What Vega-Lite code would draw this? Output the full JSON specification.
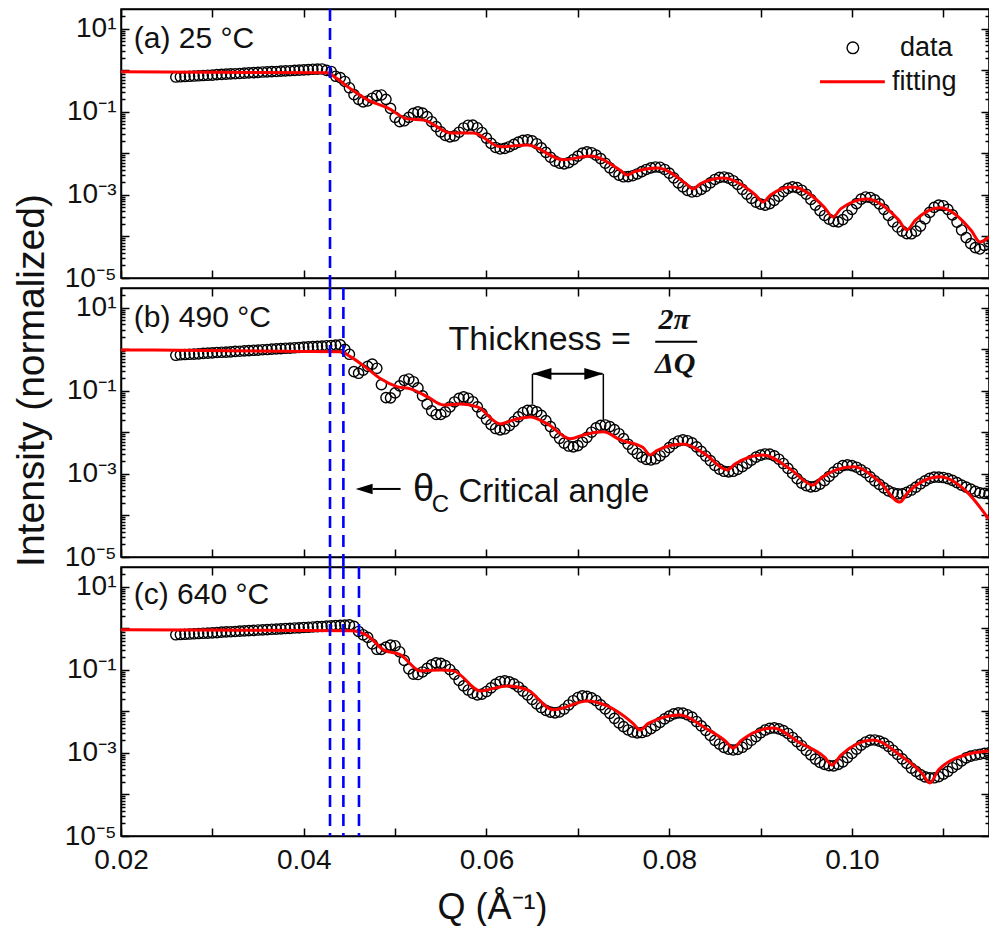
{
"$schema": "https://vega.github.io/schema/vega-lite/v6.json",
"background": "white",
"padding": {"left": 11, "top": 1, "right": 0, "bottom": 0},
"spacing": 10,
"bounds": "flush",
"config": {
  "view": {"stroke": "black", "strokeWidth": 1.5},
  "font": "Liberation Sans",
  "axis": {"grid": false, "domainColor": "black", "domainWidth": 1.5, "tickColor": "black", "tickWidth": 1.5, "labelColor": "#111111", "labelFont": "Liberation Sans", "labelFontSize": 28, "titleFont": "Liberation Sans", "titleFontWeight": "normal", "titleColor": "#111111", "minExtent": 0},
  "text": {"color": "#111111", "font": "Liberation Sans"}
},
"datasets": {
  "crit": [{"p":1,"q":0.042875},{"p":2,"q":0.044339},{"p":3,"q":0.046046}],
  "pa": [{"q":0.026,"i":0.69},{"q":0.0265,"i":0.70},{"q":0.027,"i":0.71},{"q":0.0275,"i":0.72},{"q":0.028,"i":0.73},{"q":0.0285,"i":0.74},{"q":0.029,"i":0.75},{"q":0.0295,"i":0.76},{"q":0.030,"i":0.77},{"q":0.0305,"i":0.79},{"q":0.031,"i":0.80},{"q":0.0315,"i":0.81},{"q":0.032,"i":0.82},{"q":0.0325,"i":0.83},{"q":0.033,"i":0.84},{"q":0.0335,"i":0.86},{"q":0.034,"i":0.87},{"q":0.0345,"i":0.88},{"q":0.035,"i":0.89},{"q":0.0355,"i":0.91},{"q":0.036,"i":0.92},{"q":0.0365,"i":0.93},{"q":0.037,"i":0.94},{"q":0.0375,"i":0.96},{"q":0.038,"i":0.97},{"q":0.0385,"i":0.98},{"q":0.039,"i":1.0},{"q":0.0395,"i":1.01},{"q":0.040,"i":1.03},{"q":0.0405,"i":1.04},{"q":0.041,"i":1.06},{"q":0.0415,"i":1.07},{"q":0.042,"i":1.08},{"q":0.0425,"i":1.0},{"q":0.043,"i":0.94},{"q":0.0435,"i":0.72},{"q":0.044,"i":0.67},{"q":0.0445,"i":0.54},{"q":0.045,"i":0.38},{"q":0.0455,"i":0.26},{"q":0.046,"i":0.20},{"q":0.0465,"i":0.174},{"q":0.047,"i":0.183},{"q":0.0475,"i":0.213},{"q":0.048,"i":0.246},{"q":0.0485,"i":0.255},{"q":0.049,"i":0.20},{"q":0.0495,"i":0.121},{"q":0.050,"i":0.074},{"q":0.0505,"i":0.058},{"q":0.051,"i":0.061},{"q":0.0515,"i":0.074},{"q":0.052,"i":0.092},{"q":0.0525,"i":0.100},{"q":0.053,"i":0.093},{"q":0.0535,"i":0.077},{"q":0.054,"i":0.058},{"q":0.0545,"i":0.044},{"q":0.055,"i":0.033},{"q":0.0555,"i":0.027},{"q":0.056,"i":0.025},{"q":0.0565,"i":0.0265},{"q":0.057,"i":0.0324},{"q":0.0575,"i":0.041},{"q":0.058,"i":0.0477},{"q":0.0585,"i":0.0478},{"q":0.059,"i":0.0414},{"q":0.0595,"i":0.0318},{"q":0.060,"i":0.0234},{"q":0.0605,"i":0.0174},{"q":0.061,"i":0.0139},{"q":0.0615,"i":0.0128},{"q":0.062,"i":0.0132},{"q":0.0625,"i":0.0145},{"q":0.063,"i":0.0165},{"q":0.0635,"i":0.0187},{"q":0.064,"i":0.0206},{"q":0.0645,"i":0.0211},{"q":0.065,"i":0.0200},{"q":0.0655,"i":0.0171},{"q":0.066,"i":0.0136},{"q":0.0665,"i":0.0106},{"q":0.067,"i":0.0081},{"q":0.0675,"i":0.0065},{"q":0.068,"i":0.0058},{"q":0.0685,"i":0.0056},{"q":0.069,"i":0.0060},{"q":0.0695,"i":0.0071},{"q":0.070,"i":0.0086},{"q":0.0705,"i":0.0102},{"q":0.071,"i":0.0109},{"q":0.0715,"i":0.0104},{"q":0.072,"i":0.0091},{"q":0.0725,"i":0.0075},{"q":0.073,"i":0.0058},{"q":0.0735,"i":0.0045},{"q":0.074,"i":0.0036},{"q":0.0745,"i":0.0030},{"q":0.075,"i":0.00274},{"q":0.0755,"i":0.00275},{"q":0.076,"i":0.0029},{"q":0.0765,"i":0.0032},{"q":0.077,"i":0.00365},{"q":0.0775,"i":0.0041},{"q":0.078,"i":0.00449},{"q":0.0785,"i":0.00472},{"q":0.079,"i":0.00463},{"q":0.0795,"i":0.0041},{"q":0.080,"i":0.00334},{"q":0.0805,"i":0.00257},{"q":0.081,"i":0.00195},{"q":0.0815,"i":0.00156},{"q":0.082,"i":0.00128},{"q":0.0825,"i":0.00118},{"q":0.083,"i":0.00121},{"q":0.0835,"i":0.00136},{"q":0.084,"i":0.00161},{"q":0.0845,"i":0.00196},{"q":0.085,"i":0.00236},{"q":0.0855,"i":0.00264},{"q":0.086,"i":0.00271},{"q":0.0865,"i":0.00255},{"q":0.087,"i":0.0022},{"q":0.0875,"i":0.00179},{"q":0.088,"i":0.00137},{"q":0.0885,"i":0.00105},{"q":0.089,"i":0.00083},{"q":0.0895,"i":0.00067},{"q":0.090,"i":0.0006},{"q":0.0905,"i":0.00057},{"q":0.091,"i":0.00062},{"q":0.0915,"i":0.00074},{"q":0.092,"i":0.00093},{"q":0.0925,"i":0.0012},{"q":0.093,"i":0.00144},{"q":0.0935,"i":0.00156},{"q":0.094,"i":0.0015},{"q":0.0945,"i":0.0013},{"q":0.095,"i":0.00104},{"q":0.0955,"i":0.00078},{"q":0.096,"i":0.00057},{"q":0.0965,"i":0.00042},{"q":0.097,"i":0.00032},{"q":0.0975,"i":0.00026},{"q":0.098,"i":0.00023},{"q":0.0985,"i":0.000224},{"q":0.099,"i":0.000255},{"q":0.0995,"i":0.000325},{"q":0.100,"i":0.00045},{"q":0.1005,"i":0.00062},{"q":0.101,"i":0.00079},{"q":0.1015,"i":0.00089},{"q":0.102,"i":0.00087},{"q":0.1025,"i":0.00076},{"q":0.103,"i":0.00061},{"q":0.1035,"i":0.00045},{"q":0.104,"i":0.00032},{"q":0.1045,"i":0.000226},{"q":0.105,"i":0.000169},{"q":0.1055,"i":0.000135},{"q":0.106,"i":0.000117},{"q":0.1065,"i":0.000116},{"q":0.107,"i":0.000134},{"q":0.1075,"i":0.000177},{"q":0.108,"i":0.000265},{"q":0.1085,"i":0.00038},{"q":0.109,"i":0.0005},{"q":0.1095,"i":0.00057},{"q":0.110,"i":0.00055},{"q":0.1105,"i":0.00045},{"q":0.111,"i":0.00033},{"q":0.1115,"i":0.000222},{"q":0.112,"i":0.000143},{"q":0.1125,"i":0.000094},{"q":0.113,"i":0.000067},{"q":0.1135,"i":0.000054},{"q":0.114,"i":0.00005},{"q":0.1145,"i":0.000061},{"q":0.115,"i":0.000074}],
  "pb": [{"q":0.026,"i":0.72},{"q":0.0265,"i":0.74},{"q":0.027,"i":0.75},{"q":0.0275,"i":0.76},{"q":0.028,"i":0.77},{"q":0.0285,"i":0.78},{"q":0.029,"i":0.80},{"q":0.0295,"i":0.81},{"q":0.030,"i":0.82},{"q":0.0305,"i":0.84},{"q":0.031,"i":0.85},{"q":0.0315,"i":0.86},{"q":0.032,"i":0.87},{"q":0.0325,"i":0.89},{"q":0.033,"i":0.90},{"q":0.0335,"i":0.92},{"q":0.034,"i":0.93},{"q":0.0345,"i":0.95},{"q":0.035,"i":0.96},{"q":0.0355,"i":0.98},{"q":0.036,"i":0.99},{"q":0.0365,"i":1.01},{"q":0.037,"i":1.03},{"q":0.0375,"i":1.04},{"q":0.038,"i":1.06},{"q":0.0385,"i":1.07},{"q":0.039,"i":1.09},{"q":0.0395,"i":1.11},{"q":0.040,"i":1.13},{"q":0.0405,"i":1.15},{"q":0.041,"i":1.16},{"q":0.0415,"i":1.18},{"q":0.042,"i":1.20},{"q":0.0425,"i":1.22},{"q":0.043,"i":1.24},{"q":0.0435,"i":1.26},{"q":0.044,"i":1.28},{"q":0.0445,"i":1.0},{"q":0.045,"i":0.76},{"q":0.0455,"i":0.29},{"q":0.046,"i":0.265},{"q":0.0465,"i":0.315},{"q":0.047,"i":0.39},{"q":0.0475,"i":0.44},{"q":0.048,"i":0.35},{"q":0.0485,"i":0.142},{"q":0.049,"i":0.069},{"q":0.0495,"i":0.068},{"q":0.050,"i":0.0895},{"q":0.0505,"i":0.132},{"q":0.051,"i":0.18},{"q":0.0515,"i":0.193},{"q":0.052,"i":0.166},{"q":0.0525,"i":0.118},{"q":0.053,"i":0.076},{"q":0.0535,"i":0.048},{"q":0.054,"i":0.033},{"q":0.0545,"i":0.027},{"q":0.055,"i":0.027},{"q":0.0555,"i":0.0313},{"q":0.056,"i":0.041},{"q":0.0565,"i":0.054},{"q":0.057,"i":0.066},{"q":0.0575,"i":0.0716},{"q":0.058,"i":0.0665},{"q":0.0585,"i":0.0548},{"q":0.059,"i":0.0413},{"q":0.0595,"i":0.0287},{"q":0.060,"i":0.0206},{"q":0.0605,"i":0.0154},{"q":0.061,"i":0.0124},{"q":0.0615,"i":0.0115},{"q":0.062,"i":0.0121},{"q":0.0625,"i":0.0145},{"q":0.063,"i":0.0183},{"q":0.0635,"i":0.0236},{"q":0.064,"i":0.0301},{"q":0.0645,"i":0.034},{"q":0.065,"i":0.0345},{"q":0.0655,"i":0.0312},{"q":0.066,"i":0.0258},{"q":0.0665,"i":0.0192},{"q":0.067,"i":0.0138},{"q":0.0675,"i":0.0098},{"q":0.068,"i":0.0072},{"q":0.0685,"i":0.0055},{"q":0.069,"i":0.0047},{"q":0.0695,"i":0.00448},{"q":0.070,"i":0.0048},{"q":0.0705,"i":0.0058},{"q":0.071,"i":0.0076},{"q":0.0715,"i":0.0101},{"q":0.072,"i":0.0129},{"q":0.0725,"i":0.0148},{"q":0.073,"i":0.0151},{"q":0.0735,"i":0.0138},{"q":0.074,"i":0.0117},{"q":0.0745,"i":0.0093},{"q":0.075,"i":0.0071},{"q":0.0755,"i":0.0052},{"q":0.076,"i":0.0039},{"q":0.0765,"i":0.0031},{"q":0.077,"i":0.00254},{"q":0.0775,"i":0.00224},{"q":0.078,"i":0.00217},{"q":0.0785,"i":0.00232},{"q":0.079,"i":0.00274},{"q":0.0795,"i":0.0034},{"q":0.080,"i":0.0043},{"q":0.0805,"i":0.0054},{"q":0.081,"i":0.0062},{"q":0.0815,"i":0.0066},{"q":0.082,"i":0.0063},{"q":0.0825,"i":0.0056},{"q":0.083,"i":0.0045},{"q":0.0835,"i":0.0035},{"q":0.084,"i":0.0027},{"q":0.0845,"i":0.0021},{"q":0.085,"i":0.0016},{"q":0.0855,"i":0.00131},{"q":0.086,"i":0.00116},{"q":0.0865,"i":0.00112},{"q":0.087,"i":0.00116},{"q":0.0875,"i":0.00129},{"q":0.088,"i":0.00149},{"q":0.0885,"i":0.00179},{"q":0.089,"i":0.00214},{"q":0.0895,"i":0.00254},{"q":0.090,"i":0.00283},{"q":0.0905,"i":0.00302},{"q":0.091,"i":0.003},{"q":0.0915,"i":0.00272},{"q":0.092,"i":0.00226},{"q":0.0925,"i":0.00178},{"q":0.093,"i":0.00136},{"q":0.0935,"i":0.00103},{"q":0.094,"i":0.00077},{"q":0.0945,"i":0.0006},{"q":0.095,"i":0.00052},{"q":0.0955,"i":0.00049},{"q":0.096,"i":0.0005},{"q":0.0965,"i":0.00057},{"q":0.097,"i":0.00069},{"q":0.0975,"i":0.00087},{"q":0.098,"i":0.00111},{"q":0.0985,"i":0.00137},{"q":0.099,"i":0.00158},{"q":0.0995,"i":0.00165},{"q":0.100,"i":0.00159},{"q":0.1005,"i":0.00145},{"q":0.101,"i":0.00125},{"q":0.1015,"i":0.00107},{"q":0.102,"i":0.00085},{"q":0.1025,"i":0.00068},{"q":0.103,"i":0.00056},{"q":0.1035,"i":0.00046},{"q":0.104,"i":0.00039},{"q":0.1045,"i":0.00035},{"q":0.105,"i":0.00033},{"q":0.1055,"i":0.00033},{"q":0.106,"i":0.00036},{"q":0.1065,"i":0.00041},{"q":0.107,"i":0.00048},{"q":0.1075,"i":0.00058},{"q":0.108,"i":0.00068},{"q":0.1085,"i":0.00078},{"q":0.109,"i":0.00084},{"q":0.1095,"i":0.00084},{"q":0.110,"i":0.00082},{"q":0.1105,"i":0.00077},{"q":0.111,"i":0.0007},{"q":0.1115,"i":0.00062},{"q":0.112,"i":0.00054},{"q":0.1125,"i":0.00048},{"q":0.113,"i":0.00043},{"q":0.1135,"i":0.00038},{"q":0.114,"i":0.00035},{"q":0.1145,"i":0.00034},{"q":0.115,"i":0.00033}],
  "pc": [{"q":0.026,"i":0.70},{"q":0.0265,"i":0.71},{"q":0.027,"i":0.72},{"q":0.0275,"i":0.73},{"q":0.028,"i":0.74},{"q":0.0285,"i":0.75},{"q":0.029,"i":0.76},{"q":0.0295,"i":0.77},{"q":0.030,"i":0.78},{"q":0.0305,"i":0.79},{"q":0.031,"i":0.81},{"q":0.0315,"i":0.82},{"q":0.032,"i":0.83},{"q":0.0325,"i":0.84},{"q":0.033,"i":0.855},{"q":0.0335,"i":0.87},{"q":0.034,"i":0.88},{"q":0.0345,"i":0.89},{"q":0.035,"i":0.91},{"q":0.0355,"i":0.92},{"q":0.036,"i":0.93},{"q":0.0365,"i":0.95},{"q":0.037,"i":0.96},{"q":0.0375,"i":0.975},{"q":0.038,"i":0.99},{"q":0.0385,"i":1.0},{"q":0.039,"i":1.02},{"q":0.0395,"i":1.03},{"q":0.040,"i":1.05},{"q":0.0405,"i":1.06},{"q":0.041,"i":1.08},{"q":0.0415,"i":1.10},{"q":0.042,"i":1.11},{"q":0.0425,"i":1.13},{"q":0.043,"i":1.15},{"q":0.0435,"i":1.16},{"q":0.044,"i":1.18},{"q":0.0445,"i":1.20},{"q":0.045,"i":1.21},{"q":0.0455,"i":1.12},{"q":0.046,"i":0.84},{"q":0.0465,"i":0.70},{"q":0.047,"i":0.605},{"q":0.0475,"i":0.42},{"q":0.048,"i":0.313},{"q":0.0485,"i":0.311},{"q":0.049,"i":0.352},{"q":0.0495,"i":0.394},{"q":0.050,"i":0.38},{"q":0.0505,"i":0.273},{"q":0.051,"i":0.169},{"q":0.0515,"i":0.106},{"q":0.052,"i":0.079},{"q":0.0525,"i":0.0774},{"q":0.053,"i":0.089},{"q":0.0535,"i":0.109},{"q":0.054,"i":0.132},{"q":0.0545,"i":0.147},{"q":0.055,"i":0.144},{"q":0.0555,"i":0.127},{"q":0.056,"i":0.102},{"q":0.0565,"i":0.078},{"q":0.057,"i":0.0556},{"q":0.0575,"i":0.0411},{"q":0.058,"i":0.0327},{"q":0.0585,"i":0.0274},{"q":0.059,"i":0.0251},{"q":0.0595,"i":0.026},{"q":0.060,"i":0.0301},{"q":0.0605,"i":0.0368},{"q":0.061,"i":0.0454},{"q":0.0615,"i":0.0526},{"q":0.062,"i":0.0542},{"q":0.0625,"i":0.0515},{"q":0.063,"i":0.0459},{"q":0.0635,"i":0.0388},{"q":0.064,"i":0.0308},{"q":0.0645,"i":0.0249},{"q":0.065,"i":0.0194},{"q":0.0655,"i":0.0151},{"q":0.066,"i":0.0124},{"q":0.0665,"i":0.0106},{"q":0.067,"i":0.0096},{"q":0.0675,"i":0.0092},{"q":0.068,"i":0.0097},{"q":0.0685,"i":0.0114},{"q":0.069,"i":0.0143},{"q":0.0695,"i":0.0181},{"q":0.070,"i":0.0216},{"q":0.0705,"i":0.0236},{"q":0.071,"i":0.023},{"q":0.0715,"i":0.0211},{"q":0.072,"i":0.0183},{"q":0.0725,"i":0.0144},{"q":0.073,"i":0.0115},{"q":0.0735,"i":0.009},{"q":0.074,"i":0.0068},{"q":0.0745,"i":0.0053},{"q":0.075,"i":0.0043},{"q":0.0755,"i":0.00357},{"q":0.076,"i":0.00319},{"q":0.0765,"i":0.00303},{"q":0.077,"i":0.0031},{"q":0.0775,"i":0.00334},{"q":0.078,"i":0.00383},{"q":0.0785,"i":0.00452},{"q":0.079,"i":0.00546},{"q":0.0795,"i":0.0066},{"q":0.080,"i":0.0077},{"q":0.0805,"i":0.0087},{"q":0.081,"i":0.0092},{"q":0.0815,"i":0.0091},{"q":0.082,"i":0.0083},{"q":0.0825,"i":0.0073},{"q":0.083,"i":0.0057},{"q":0.0835,"i":0.0045},{"q":0.084,"i":0.0035},{"q":0.0845,"i":0.00263},{"q":0.085,"i":0.00201},{"q":0.0855,"i":0.00164},{"q":0.086,"i":0.00136},{"q":0.0865,"i":0.00123},{"q":0.087,"i":0.00118},{"q":0.0875,"i":0.00122},{"q":0.088,"i":0.00137},{"q":0.0885,"i":0.00162},{"q":0.089,"i":0.00202},{"q":0.0895,"i":0.00248},{"q":0.090,"i":0.00305},{"q":0.0905,"i":0.00356},{"q":0.091,"i":0.0039},{"q":0.0915,"i":0.004},{"q":0.092,"i":0.0038},{"q":0.0925,"i":0.00345},{"q":0.093,"i":0.00294},{"q":0.0935,"i":0.00236},{"q":0.094,"i":0.00187},{"q":0.0945,"i":0.00149},{"q":0.095,"i":0.00115},{"q":0.0955,"i":0.0009},{"q":0.096,"i":0.00071},{"q":0.0965,"i":0.00059},{"q":0.097,"i":0.00053},{"q":0.0975,"i":0.000494},{"q":0.098,"i":0.00049},{"q":0.0985,"i":0.00053},{"q":0.099,"i":0.00061},{"q":0.0995,"i":0.00077},{"q":0.100,"i":0.00097},{"q":0.1005,"i":0.00124},{"q":0.101,"i":0.00154},{"q":0.1015,"i":0.00183},{"q":0.102,"i":0.00203},{"q":0.1025,"i":0.00205},{"q":0.103,"i":0.00193},{"q":0.1035,"i":0.00172},{"q":0.104,"i":0.00144},{"q":0.1045,"i":0.00116},{"q":0.105,"i":0.00092},{"q":0.1055,"i":0.00072},{"q":0.106,"i":0.00056},{"q":0.1065,"i":0.00043},{"q":0.107,"i":0.00036},{"q":0.1075,"i":0.0003},{"q":0.108,"i":0.000266},{"q":0.1085,"i":0.000251},{"q":0.109,"i":0.000252},{"q":0.1095,"i":0.00027},{"q":0.110,"i":0.00031},{"q":0.1105,"i":0.00036},{"q":0.111,"i":0.00044},{"q":0.1115,"i":0.00053},{"q":0.112,"i":0.00064},{"q":0.1125,"i":0.00076},{"q":0.113,"i":0.00084},{"q":0.1135,"i":0.00089},{"q":0.114,"i":0.00093},{"q":0.1145,"i":0.00098},{"q":0.115,"i":0.001}],
  "fa": [{"q":0.02,"i":0.92},{"q":0.04262,"i":0.87},{"q":0.0435,"i":0.66},{"q":0.04514,"i":0.358},{"q":0.047,"i":0.195},{"q":0.04918,"i":0.125},{"q":0.05137,"i":0.0678},{"q":0.05311,"i":0.0641},{"q":0.05607,"i":0.0312},{"q":0.05858,"i":0.0312},{"q":0.06153,"i":0.0144},{"q":0.06448,"i":0.016},{"q":0.06842,"i":0.007},{"q":0.07137,"i":0.0087},{"q":0.0746,"i":0.00398},{"q":0.0754,"i":0.00303},{"q":0.0762,"i":0.00363},{"q":0.07869,"i":0.00448},{"q":0.0818,"i":0.0019},{"q":0.08262,"i":0.0014},{"q":0.0834,"i":0.00186},{"q":0.0859,"i":0.00257},{"q":0.0894,"i":0.00102},{"q":0.09027,"i":0.00068},{"q":0.0911,"i":0.001},{"q":0.09344,"i":0.00156},{"q":0.097,"i":0.0005},{"q":0.09792,"i":0.000295},{"q":0.0988,"i":0.000468},{"q":0.10164,"i":0.0008},{"q":0.1051,"i":0.000251},{"q":0.10601,"i":0.000144},{"q":0.1069,"i":0.00024},{"q":0.10962,"i":0.00049},{"q":0.1131,"i":0.000135},{"q":0.11399,"i":0.0000736},{"q":0.115,"i":0.0000973}],
  "fb": [{"q":0.02,"i":0.97},{"q":0.04404,"i":0.87},{"q":0.04514,"i":0.66},{"q":0.047,"i":0.339},{"q":0.04842,"i":0.195},{"q":0.05027,"i":0.125},{"q":0.05169,"i":0.112},{"q":0.05355,"i":0.0716},{"q":0.0553,"i":0.046},{"q":0.05716,"i":0.0486},{"q":0.05902,"i":0.0411},{"q":0.06153,"i":0.016},{"q":0.06295,"i":0.02},{"q":0.06481,"i":0.0236},{"q":0.06667,"i":0.016},{"q":0.06918,"i":0.007},{"q":0.0706,"i":0.0087},{"q":0.07279,"i":0.0103},{"q":0.07464,"i":0.0066},{"q":0.0771,"i":0.00437},{"q":0.07792,"i":0.00287},{"q":0.0787,"i":0.00372},{"q":0.08153,"i":0.00528},{"q":0.08393,"i":0.003},{"q":0.08634,"i":0.00125},{"q":0.0872,"i":0.00174},{"q":0.09027,"i":0.00287},{"q":0.09322,"i":0.00132},{"q":0.09574,"i":0.00054},{"q":0.0966,"i":0.00079},{"q":0.10011,"i":0.00148},{"q":0.10306,"i":0.00064},{"q":0.10525,"i":0.00021},{"q":0.1061,"i":0.000355},{"q":0.10962,"i":0.00085},{"q":0.11257,"i":0.00037},{"q":0.11497,"i":0.000082}],
  "fc": [{"q":0.02,"i":0.92},{"q":0.04514,"i":0.87},{"q":0.047,"i":0.66},{"q":0.04874,"i":0.303},{"q":0.0506,"i":0.23},{"q":0.05279,"i":0.0946},{"q":0.05497,"i":0.1},{"q":0.05639,"i":0.0946},{"q":0.05934,"i":0.0312},{"q":0.0623,"i":0.0411},{"q":0.06448,"i":0.033},{"q":0.06732,"i":0.0109},{"q":0.07104,"i":0.0179},{"q":0.07322,"i":0.0136},{"q":0.076,"i":0.00525},{"q":0.07683,"i":0.00358},{"q":0.0777,"i":0.00513},{"q":0.0812,"i":0.0082},{"q":0.08393,"i":0.004},{"q":0.0862,"i":0.0019},{"q":0.087,"i":0.00132},{"q":0.0879,"i":0.002},{"q":0.09137,"i":0.004},{"q":0.09432,"i":0.00174},{"q":0.097,"i":0.00079},{"q":0.09781,"i":0.000515},{"q":0.0988,"i":0.00089},{"q":0.1023,"i":0.00206},{"q":0.10525,"i":0.00089},{"q":0.1077,"i":0.000316},{"q":0.10852,"i":0.00019},{"q":0.1095,"i":0.0004},{"q":0.11322,"i":0.001},{"q":0.11497,"i":0.00112}]
},
"vconcat": [
{
  "width": 868, "height": 269,
  "layer": [
    {"data": {"name": "pa"},
     "mark": {"type": "point", "shape": "circle", "filled": false, "color": "black", "strokeWidth": 1.4, "size": 105, "opacity": 1, "clip": true},
     "encoding": {
       "x": {"field": "q", "type": "quantitative", "scale": {"domain": [0.02, 0.115], "nice": false, "zero": false},
             "axis": {"orient": "bottom", "values": [0.02,0.03,0.04,0.05,0.06,0.07,0.08,0.09,0.1,0.11], "tickSize": -8, "labels": false, "title": null}},
       "y": {"field": "i", "type": "quantitative", "scale": {"type": "log", "domain": [1e-5, 30], "nice": false},
             "axis": {"orient": "left", "values": [1e-5,2e-5,3e-5,4e-5,5e-5,6e-5,7e-5,8e-5,9e-5,1e-4,2e-4,3e-4,4e-4,5e-4,6e-4,7e-4,8e-4,9e-4,1e-3,2e-3,3e-3,4e-3,5e-3,6e-3,7e-3,8e-3,9e-3,0.01,0.02,0.03,0.04,0.05,0.06,0.07,0.08,0.09,0.1,0.2,0.3,0.4,0.5,0.6,0.7,0.8,0.9,1,2,3,4,5,6,7,8,9,10,20],
                      "tickSize": {"condition": {"test": "abs(log(datum.value)/LN10 - round(log(datum.value)/LN10)) < 0.01", "value": -8}, "value": -4},
                      "labelExpr": "datum.value == 10 ? '10¹' : datum.value == 0.1 ? '10⁻¹' : datum.value == 0.001 ? '10⁻³' : datum.value == 0.00001 ? '10⁻⁵' : ''",
                      "labelPadding": 13, "labelFlush": false, "labelOverlap": false, "labelBaseline": "middle", "title": null}}
     }},
    {"data": {"name": "fa"},
     "mark": {"type": "line", "color": "#ff0000", "strokeWidth": 3, "interpolate": "monotone", "clip": true},
     "encoding": {
       "x": {"field": "q", "type": "quantitative", "scale": {"domain": [0.02, 0.115], "nice": false, "zero": false},
             "axis": {"orient": "top", "values": [0.02,0.03,0.04,0.05,0.06,0.07,0.08,0.09,0.1,0.11], "tickSize": -8, "labels": false, "title": null}},
       "y": {"field": "i", "type": "quantitative", "scale": {"type": "log", "domain": [1e-5, 30], "nice": false},
             "axis": {"orient": "right", "values": [1e-5,2e-5,3e-5,4e-5,5e-5,6e-5,7e-5,8e-5,9e-5,1e-4,2e-4,3e-4,4e-4,5e-4,6e-4,7e-4,8e-4,9e-4,1e-3,2e-3,3e-3,4e-3,5e-3,6e-3,7e-3,8e-3,9e-3,0.01,0.02,0.03,0.04,0.05,0.06,0.07,0.08,0.09,0.1,0.2,0.3,0.4,0.5,0.6,0.7,0.8,0.9,1,2,3,4,5,6,7,8,9,10,20],
                      "tickSize": {"condition": {"test": "abs(log(datum.value)/LN10 - round(log(datum.value)/LN10)) < 0.01", "value": -8}, "value": -4},
                      "labels": false, "title": null}}
     }},
    {"data": {"name": "crit"}, "transform": [{"filter": "datum.p <= 1"}],
     "mark": {"type": "rule", "color": "#0000ff", "strokeWidth": 2.6, "strokeDash": [12, 7]},
     "encoding": {"x": {"field": "q", "type": "quantitative", "scale": {"domain": [0.02, 0.115], "nice": false, "zero": false}, "axis": null},
                  "y": {"datum": 30, "type": "quantitative", "scale": {"type": "log", "domain": [1e-5, 30], "nice": false}, "axis": null},
                  "y2": {"datum": 0.0000057}}},
    {"data": {"values": [{"q": 0.0214, "i": 5.6, "t": "(a) 25 °C"}]},
     "mark": {"type": "text", "align": "left", "baseline": "middle", "fontSize": 30},
     "encoding": {"x": {"field": "q", "type": "quantitative", "scale": {"domain": [0.02, 0.115], "nice": false, "zero": false}, "axis": null},
                  "y": {"field": "i", "type": "quantitative", "scale": {"type": "log", "domain": [1e-5, 30], "nice": false}, "axis": null},
                  "text": {"field": "t"}}},
    {"data": {"values": [{"q": 0.1001, "i": 3.48}]},
     "mark": {"type": "point", "shape": "circle", "filled": false, "color": "black", "strokeWidth": 1.4, "size": 135, "opacity": 1},
     "encoding": {"x": {"field": "q", "type": "quantitative", "scale": {"domain": [0.02, 0.115], "nice": false, "zero": false}, "axis": null},
                  "y": {"field": "i", "type": "quantitative", "scale": {"type": "log", "domain": [1e-5, 30], "nice": false}, "axis": null}}},
    {"data": {"values": [{"q": 0.0965, "q2": 0.1036, "i": 0.53}]},
     "mark": {"type": "rule", "color": "#ff0000", "strokeWidth": 3},
     "encoding": {"x": {"field": "q", "type": "quantitative", "scale": {"domain": [0.02, 0.115], "nice": false, "zero": false}, "axis": null},
                  "x2": {"field": "q2"},
                  "y": {"field": "i", "type": "quantitative", "scale": {"type": "log", "domain": [1e-5, 30], "nice": false}, "axis": null}}},
    {"data": {"values": [{"q": 0.10525, "i": 3.48, "t": "data"}, {"q": 0.10437, "i": 0.53, "t": "fitting"}]},
     "mark": {"type": "text", "align": "left", "baseline": "middle", "fontSize": 27},
     "encoding": {"x": {"field": "q", "type": "quantitative", "scale": {"domain": [0.02, 0.115], "nice": false, "zero": false}, "axis": null},
                  "y": {"field": "i", "type": "quantitative", "scale": {"type": "log", "domain": [1e-5, 30], "nice": false}, "axis": null},
                  "text": {"field": "t"}}}
  ]
},
{
  "width": 868, "height": 269,
  "layer": [
    {"data": {"name": "pb"},
     "mark": {"type": "point", "shape": "circle", "filled": false, "color": "black", "strokeWidth": 1.4, "size": 105, "opacity": 1, "clip": true},
     "encoding": {
       "x": {"field": "q", "type": "quantitative", "scale": {"domain": [0.02, 0.115], "nice": false, "zero": false},
             "axis": {"orient": "bottom", "values": [0.02,0.03,0.04,0.05,0.06,0.07,0.08,0.09,0.1,0.11], "tickSize": -8, "labels": false, "title": null}},
       "y": {"field": "i", "type": "quantitative", "scale": {"type": "log", "domain": [1e-5, 30], "nice": false},
             "axis": {"orient": "left", "values": [1e-5,2e-5,3e-5,4e-5,5e-5,6e-5,7e-5,8e-5,9e-5,1e-4,2e-4,3e-4,4e-4,5e-4,6e-4,7e-4,8e-4,9e-4,1e-3,2e-3,3e-3,4e-3,5e-3,6e-3,7e-3,8e-3,9e-3,0.01,0.02,0.03,0.04,0.05,0.06,0.07,0.08,0.09,0.1,0.2,0.3,0.4,0.5,0.6,0.7,0.8,0.9,1,2,3,4,5,6,7,8,9,10,20],
                      "tickSize": {"condition": {"test": "abs(log(datum.value)/LN10 - round(log(datum.value)/LN10)) < 0.01", "value": -8}, "value": -4},
                      "labelExpr": "datum.value == 10 ? '10¹' : datum.value == 0.1 ? '10⁻¹' : datum.value == 0.001 ? '10⁻³' : datum.value == 0.00001 ? '10⁻⁵' : ''",
                      "labelPadding": 13, "labelFlush": false, "labelOverlap": false, "labelBaseline": "middle",
                      "title": "Intensity (normalized)", "titleFontSize": 39, "titleAngle": -90, "titleX": -78, "titleY": 92, "titleAlign": "center", "titleBaseline": "alphabetic"}}
     }},
    {"data": {"name": "fb"},
     "mark": {"type": "line", "color": "#ff0000", "strokeWidth": 3, "interpolate": "monotone", "clip": true},
     "encoding": {
       "x": {"field": "q", "type": "quantitative", "scale": {"domain": [0.02, 0.115], "nice": false, "zero": false},
             "axis": {"orient": "top", "values": [0.02,0.03,0.04,0.05,0.06,0.07,0.08,0.09,0.1,0.11], "tickSize": -8, "labels": false, "title": null}},
       "y": {"field": "i", "type": "quantitative", "scale": {"type": "log", "domain": [1e-5, 30], "nice": false},
             "axis": {"orient": "right", "values": [1e-5,2e-5,3e-5,4e-5,5e-5,6e-5,7e-5,8e-5,9e-5,1e-4,2e-4,3e-4,4e-4,5e-4,6e-4,7e-4,8e-4,9e-4,1e-3,2e-3,3e-3,4e-3,5e-3,6e-3,7e-3,8e-3,9e-3,0.01,0.02,0.03,0.04,0.05,0.06,0.07,0.08,0.09,0.1,0.2,0.3,0.4,0.5,0.6,0.7,0.8,0.9,1,2,3,4,5,6,7,8,9,10,20],
                      "tickSize": {"condition": {"test": "abs(log(datum.value)/LN10 - round(log(datum.value)/LN10)) < 0.01", "value": -8}, "value": -4},
                      "labels": false, "title": null}}
     }},
    {"data": {"name": "crit"}, "transform": [{"filter": "datum.p <= 2"}],
     "mark": {"type": "rule", "color": "#0000ff", "strokeWidth": 2.6, "strokeDash": [12, 7]},
     "encoding": {"x": {"field": "q", "type": "quantitative", "scale": {"domain": [0.02, 0.115], "nice": false, "zero": false}, "axis": null},
                  "y": {"datum": 30, "type": "quantitative", "scale": {"type": "log", "domain": [1e-5, 30], "nice": false}, "axis": null},
                  "y2": {"datum": 0.0000057}}},
    {"data": {"values": [{"q": 0.0214, "i": 5.8, "t": "(b) 490 °C", "s": 30}, {"q": 0.05585, "i": 1.69, "t": "Thickness  =", "s": 34}, {"q": 0.05694, "i": 3.68e-4, "t": "Critical angle", "s": 33}]},
     "mark": {"type": "text", "align": "left", "baseline": "middle"},
     "encoding": {"x": {"field": "q", "type": "quantitative", "scale": {"domain": [0.02, 0.115], "nice": false, "zero": false}, "axis": null},
                  "y": {"field": "i", "type": "quantitative", "scale": {"type": "log", "domain": [1e-5, 30], "nice": false}, "axis": null},
                  "text": {"field": "t"}, "size": {"field": "s", "type": "quantitative", "scale": null}}},
    {"data": {"values": [{"q": 0.05311, "i": 4.1e-4, "t": "θ", "s": 38}, {"q": 0.05497, "i": 1.8e-4, "t": "C", "s": 24}]},
     "mark": {"type": "text", "align": "center", "baseline": "middle"},
     "encoding": {"x": {"field": "q", "type": "quantitative", "scale": {"domain": [0.02, 0.115], "nice": false, "zero": false}, "axis": null},
                  "y": {"field": "i", "type": "quantitative", "scale": {"type": "log", "domain": [1e-5, 30], "nice": false}, "axis": null},
                  "text": {"field": "t"}, "size": {"field": "s", "type": "quantitative", "scale": null}}},
    {"data": {"values": [{"q": 0.08055, "i": 5.14, "t": "2π"}, {"q": 0.08066, "i": 0.448, "t": "ΔQ"}]},
     "mark": {"type": "text", "align": "center", "baseline": "middle", "font": "Liberation Serif", "fontWeight": "bold", "fontStyle": "italic", "fontSize": 30},
     "encoding": {"x": {"field": "q", "type": "quantitative", "scale": {"domain": [0.02, 0.115], "nice": false, "zero": false}, "axis": null},
                  "y": {"field": "i", "type": "quantitative", "scale": {"type": "log", "domain": [1e-5, 30], "nice": false}, "axis": null},
                  "text": {"field": "t"}}},
    {"data": {"values": [{"q": 0.07847, "q2": 0.08306, "i": 1.52, "i2": 1.52, "w": 2}, {"q": 0.0651, "q2": 0.0727, "i": 0.257, "i2": 0.257, "w": 2}, {"q": 0.06503, "q2": 0.06503, "i": 0.257, "i2": 0.0486, "w": 1.5}, {"q": 0.07279, "q2": 0.07279, "i": 0.257, "i2": 0.02, "w": 1.5}, {"q": 0.04754, "q2": 0.0506, "i": 4.35e-4, "i2": 4.35e-4, "w": 2}]},
     "mark": {"type": "rule", "color": "black"},
     "encoding": {"x": {"field": "q", "type": "quantitative", "scale": {"domain": [0.02, 0.115], "nice": false, "zero": false}, "axis": null},
                  "x2": {"field": "q2"},
                  "y": {"field": "i", "type": "quantitative", "scale": {"type": "log", "domain": [1e-5, 30], "nice": false}, "axis": null},
                  "y2": {"field": "i2"},
                  "strokeWidth": {"field": "w", "type": "quantitative", "scale": null}}},
    {"data": {"values": [{"q": 0.06607, "i": 0.257, "d": "left", "s": 361}, {"q": 0.07175, "i": 0.257, "d": "right", "s": 361}, {"q": 0.04661, "i": 4.35e-4, "d": "left", "s": 289}]},
     "mark": {"type": "point", "filled": true, "color": "black", "opacity": 1, "strokeWidth": 0},
     "encoding": {"x": {"field": "q", "type": "quantitative", "scale": {"domain": [0.02, 0.115], "nice": false, "zero": false}, "axis": null},
                  "y": {"field": "i", "type": "quantitative", "scale": {"type": "log", "domain": [1e-5, 30], "nice": false}, "axis": null},
                  "shape": {"field": "d", "type": "nominal", "scale": {"domain": ["left", "right"], "range": ["M -1 0 L 1 -0.62 L 1 0.62 Z", "M 1 0 L -1 -0.62 L -1 0.62 Z"]}, "legend": null},
                  "size": {"field": "s", "type": "quantitative", "scale": null}}}
  ]
},
{
  "width": 868, "height": 269,
  "layer": [
    {"data": {"name": "pc"},
     "mark": {"type": "point", "shape": "circle", "filled": false, "color": "black", "strokeWidth": 1.4, "size": 105, "opacity": 1, "clip": true},
     "encoding": {
       "x": {"field": "q", "type": "quantitative", "scale": {"domain": [0.02, 0.115], "nice": false, "zero": false},
             "axis": {"orient": "bottom", "values": [0.02,0.03,0.04,0.05,0.06,0.07,0.08,0.09,0.1,0.11], "tickSize": -8,
                      "labelExpr": "round(datum.value*100) % 2 == 0 ? format(datum.value, '.2f') : ''",
                      "labelPadding": 18, "labelFlush": false, "labelOverlap": false,
                      "title": "Q (Å⁻¹)", "titleFontSize": 36, "titleX": 371, "titleY": 82, "titleAlign": "center", "titleBaseline": "alphabetic"}},
       "y": {"field": "i", "type": "quantitative", "scale": {"type": "log", "domain": [1e-5, 30], "nice": false},
             "axis": {"orient": "left", "values": [1e-5,2e-5,3e-5,4e-5,5e-5,6e-5,7e-5,8e-5,9e-5,1e-4,2e-4,3e-4,4e-4,5e-4,6e-4,7e-4,8e-4,9e-4,1e-3,2e-3,3e-3,4e-3,5e-3,6e-3,7e-3,8e-3,9e-3,0.01,0.02,0.03,0.04,0.05,0.06,0.07,0.08,0.09,0.1,0.2,0.3,0.4,0.5,0.6,0.7,0.8,0.9,1,2,3,4,5,6,7,8,9,10,20],
                      "tickSize": {"condition": {"test": "abs(log(datum.value)/LN10 - round(log(datum.value)/LN10)) < 0.01", "value": -8}, "value": -4},
                      "labelExpr": "datum.value == 10 ? '10¹' : datum.value == 0.1 ? '10⁻¹' : datum.value == 0.001 ? '10⁻³' : datum.value == 0.00001 ? '10⁻⁵' : ''",
                      "labelPadding": 13, "labelFlush": false, "labelOverlap": false, "labelBaseline": "middle", "title": null}}
     }},
    {"data": {"name": "fc"},
     "mark": {"type": "line", "color": "#ff0000", "strokeWidth": 3, "interpolate": "monotone", "clip": true},
     "encoding": {
       "x": {"field": "q", "type": "quantitative", "scale": {"domain": [0.02, 0.115], "nice": false, "zero": false},
             "axis": {"orient": "top", "values": [0.02,0.03,0.04,0.05,0.06,0.07,0.08,0.09,0.1,0.11], "tickSize": -8, "labels": false, "title": null}},
       "y": {"field": "i", "type": "quantitative", "scale": {"type": "log", "domain": [1e-5, 30], "nice": false},
             "axis": {"orient": "right", "values": [1e-5,2e-5,3e-5,4e-5,5e-5,6e-5,7e-5,8e-5,9e-5,1e-4,2e-4,3e-4,4e-4,5e-4,6e-4,7e-4,8e-4,9e-4,1e-3,2e-3,3e-3,4e-3,5e-3,6e-3,7e-3,8e-3,9e-3,0.01,0.02,0.03,0.04,0.05,0.06,0.07,0.08,0.09,0.1,0.2,0.3,0.4,0.5,0.6,0.7,0.8,0.9,1,2,3,4,5,6,7,8,9,10,20],
                      "tickSize": {"condition": {"test": "abs(log(datum.value)/LN10 - round(log(datum.value)/LN10)) < 0.01", "value": -8}, "value": -4},
                      "labels": false, "title": null}}
     }},
    {"data": {"name": "crit"},
     "mark": {"type": "rule", "color": "#0000ff", "strokeWidth": 2.6, "strokeDash": [12, 7]},
     "encoding": {"x": {"field": "q", "type": "quantitative", "scale": {"domain": [0.02, 0.115], "nice": false, "zero": false}, "axis": null}}},
    {"data": {"values": [{"q": 0.0214, "i": 6.2, "t": "(c) 640 °C"}]},
     "mark": {"type": "text", "align": "left", "baseline": "middle", "fontSize": 30},
     "encoding": {"x": {"field": "q", "type": "quantitative", "scale": {"domain": [0.02, 0.115], "nice": false, "zero": false}, "axis": null},
                  "y": {"field": "i", "type": "quantitative", "scale": {"type": "log", "domain": [1e-5, 30], "nice": false}, "axis": null},
                  "text": {"field": "t"}}}
  ]
}
]
}
